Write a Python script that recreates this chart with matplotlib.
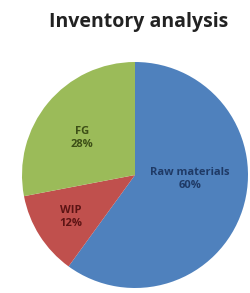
import numpy as np
import matplotlib.pyplot as plt

categories = ["Raw materials", "WIP", "FG"]
shares = [60, 12, 28]

colors = ["#4F81BD", "#C0504D", "#9BBB59"]
text_colors = ["#1F3A66", "#5C1414", "#3D4F17"]
# label placement (angle in degrees, distance as fraction of radius)
label_pos = [(-4, 0.49), (213, 0.68), (145, 0.57)]


def main():
    fig = plt.figure(figsize=(2.51, 2.93), dpi=100)
    ax = fig.add_axes([22 / 251, 5 / 293, 226 / 251, 226 / 293])
    ax.pie(shares, colors=colors, startangle=90, counterclock=False,
           radius=1.0, wedgeprops=dict(linewidth=0))
    ax.set_xlim(-1, 1)
    ax.set_ylim(-1, 1)
    ax.set_aspect("equal")
    ax.axis("off")

    for name, val, c, (ang, d) in zip(categories, shares, text_colors, label_pos):
        t = np.deg2rad(ang)
        ax.text(d * np.cos(t), d * np.sin(t), "%s\n%d%%" % (name, val),
                ha="center", va="center", fontsize=8, fontweight="bold",
                color=c, family="Open Sans", linespacing=1.3)

    fig.text(139 / 251, 1 - 22 / 293, "Inventory analysis", ha="center",
             va="center", fontsize=14, fontweight="bold", color="#222222",
             family="Open Sans")
    fig.savefig("out.png", dpi=100)
    plt.close()


if __name__ == "__main__":
    main()
